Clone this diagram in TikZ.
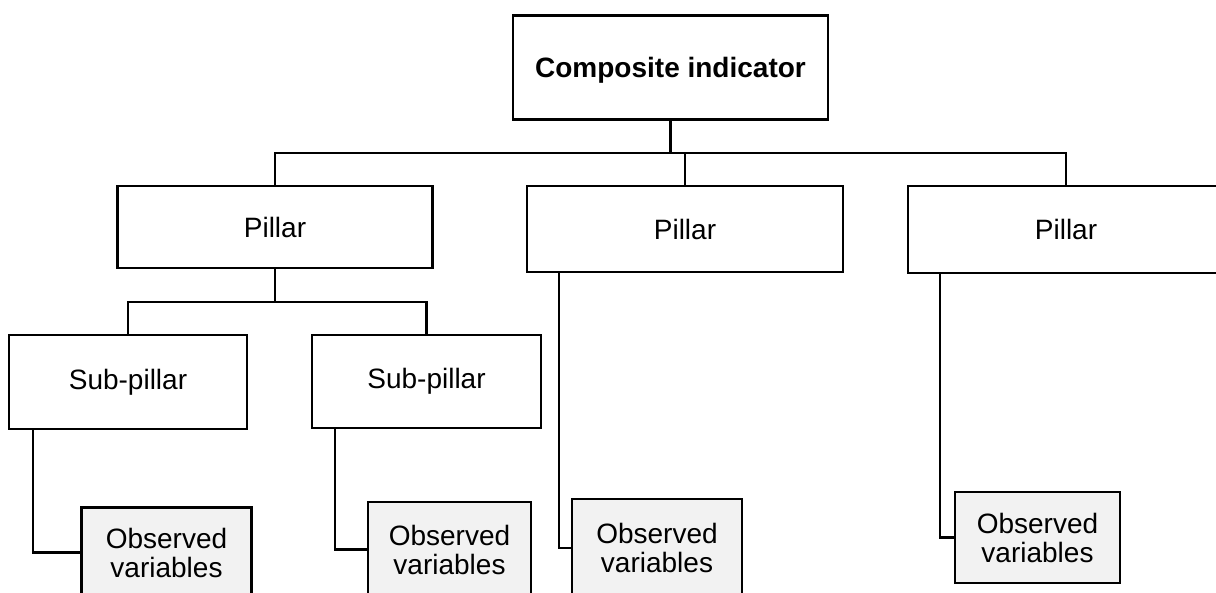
\documentclass[tikz,border=0pt]{standalone}
\usepackage{fontspec}
\setmainfont{Liberation Sans}
\begin{document}
\begin{tikzpicture}[x=1pt,y=-1pt,
  line width=2.8pt,
  box/.style={draw=black, fill=white, inner sep=0pt, outer sep=0pt,
    font=\fontsize{28}{29}\selectfont, align=center},
  obsbox/.style={box, fill=black!5},
  link/.style={draw=black, line width=2.8pt}]
\useasboundingbox (0,0) rectangle (1216,592);
\clip (0,0) rectangle (1216,592);

% top level
\node[box, minimum width=315pt, minimum height=104pt, font=\fontsize{28}{29}\selectfont\bfseries]
  (comp) at (670.5,67.5) {\raisebox{-3pt}[\height][\depth]{Composite indicator}};

% pillars
\node[box, minimum width=315pt, minimum height=82pt] (p1) at (275,227) {Pillar};
\node[box, minimum width=316pt, minimum height=86pt] (p2) at (685,229) {Pillar};
\node[box, minimum width=316pt, minimum height=87pt] (p3) at (1066,229.5) {Pillar};

% sub-pillars
\node[box, minimum width=238pt, minimum height=94pt] (s1) at (128,382) {Sub-pillar};
\node[box, minimum width=229pt, minimum height=93pt] (s2) at (426.5,381.5) {Sub-pillar};

% observed variables
\node[obsbox, minimum width=170pt, minimum height=90pt] (o1) at (166.5,552.5) {Observed\\variables};
\node[obsbox, minimum width=163pt, minimum height=95pt] (o2) at (449.5,549.5) {Observed\\variables};
\node[obsbox, minimum width=170pt, minimum height=98pt] (o3) at (657,548) {Observed\\variables};
\node[obsbox, minimum width=165pt, minimum height=91pt] (o4) at (1037.5,537.5) {Observed\\variables};

% bus levels
\coordinate (bus) at (0,153);
\coordinate (subbus) at (0,302);

% composite to pillars
\draw[link] (comp.south) -- (comp.south |- bus);
\draw[link] (p1.north) -- (p1.north |- bus) -- (p3.north |- bus) -- (p3.north);
\draw[link] (p2.north) -- (p2.north |- bus);

% pillar to sub-pillars
\draw[link] (p1.south) -- (p1.south |- subbus);
\draw[link] (s1.north) -- (s1.north |- subbus) -- (s2.north |- subbus) -- (s2.north);

% elbows down to the observed variables
\draw[link] ([xshift=24pt]s1.south west) |- (o1.west);
\draw[link] ([xshift=23pt]s2.south west) |- (o2.west);
\draw[link] ([xshift=32pt]p2.south west) |- (o3.west);
\draw[link] ([xshift=32pt]p3.south west) |- (o4.west);
\end{tikzpicture}
\end{document}
